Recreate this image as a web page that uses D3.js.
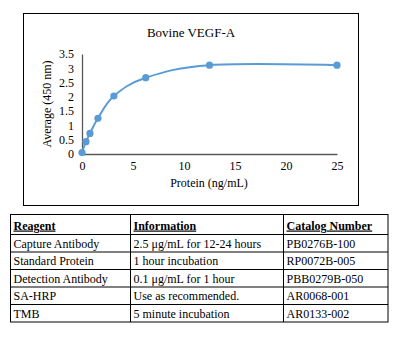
<!DOCTYPE html>
<html><head><meta charset="utf-8">
<script src="https://cdn.jsdelivr.net/npm/d3@7"></script>
<style>body{margin:0;background:#fff}svg{display:block}text{font-family:"Liberation Serif","DejaVu Serif",serif;fill:#000}</style>
</head><body><svg id="c" width="398" height="356"></svg>
<script>
const concentrations = [0, 0.39, 0.78, 1.5625, 3.125, 6.25, 12.5, 25];
const absorbance = [0.05, 0.43, 0.72, 1.25, 2.03, 2.67, 3.11, 3.11];
const xTicks = [0, 5, 10, 15, 20, 25];
const yTicks = [0, 0.5, 1, 1.5, 2, 2.5, 3, 3.5];
const headers = ["Reagent", "Information", "Catalog Number"];
const reagents = ["Capture Antibody", "Standard Protein", "Detection Antibody", "SA-HRP", "TMB"];
const infos = ["2.5 μg/mL for 12-24 hours", "1 hour incubation", "0.1 μg/mL for 1 hour", "Use as recommended.", "5 minute incubation"];
const catalogs = ["PB0276B-100", "RP0072B-005", "PBB0279B-050", "AR0068-001", "AR0133-002"];

const svg = d3.select("#c");
// chart frame
svg.append("rect").attr("x",23.5).attr("y",13.5).attr("width",335).attr("height",192)
  .attr("fill","#fff").attr("stroke","#000").attr("stroke-width",1);
svg.append("text").attr("x",191).attr("y",37).attr("text-anchor","middle").attr("font-size",13).text("Bovine VEGF-A");

const x = d3.scaleLinear().domain([0,25]).range([82,337]);
const y = d3.scaleLinear().domain([0,3.5]).range([154,54]);

const gx = svg.append("g").attr("transform","translate(0,154)")
  .call(d3.axisBottom(x).tickValues(xTicks).tickSize(0).tickPadding(7));
const gy = svg.append("g").attr("transform","translate(82,0)")
  .call(d3.axisLeft(y).tickValues(yTicks).tickSize(0).tickPadding(8).tickFormat(d3.format("")));
[gx,gy].forEach(g=>{
  g.select(".domain").attr("stroke","#595959").attr("stroke-width",1.3);
  g.selectAll("text").attr("font-family","Liberation Serif, serif").attr("font-size",12).attr("fill","#000");
});
svg.append("text").attr("x",209).attr("y",187).attr("text-anchor","middle").attr("font-size",12).text("Protein (ng/mL)");
svg.append("text").attr("transform","translate(51,104) rotate(-90)").attr("text-anchor","middle").attr("font-size",12).text("Average (450 nm)");

const pts = concentrations.map((c,i)=>[c,absorbance[i]]);
svg.append("path").datum(pts).attr("fill","none").attr("stroke","#5B9BD5").attr("stroke-width",2)
  .attr("d", d3.line().x(d=>x(d[0])).y(d=>y(d[1])).curve(d3.curveCatmullRom.alpha(0)));
svg.selectAll("circle.pt").data(pts).join("circle").attr("class","pt")
  .attr("cx",d=>x(d[0])).attr("cy",d=>y(d[1])).attr("r",3.6).attr("fill","#5B9BD5");

// table
const colX = [10.5, 130.5, 283.5, 388];
const rowY = [214.5, 234.5, 252, 269.5, 287, 304.5, 322];
const tg = svg.append("g");
tg.append("rect").attr("x",colX[0]).attr("y",rowY[0]).attr("width",colX[3]-colX[0]).attr("height",rowY[6]-rowY[0])
  .attr("fill","none").attr("stroke","#000");
colX.slice(1,3).forEach(cx=>tg.append("line").attr("x1",cx).attr("x2",cx).attr("y1",rowY[0]).attr("y2",rowY[6]).attr("stroke","#000"));
rowY.slice(1,6).forEach(ry=>tg.append("line").attr("x1",colX[0]).attr("x2",colX[3]).attr("y1",ry).attr("y2",ry).attr("stroke","#000"));
headers.forEach((h,i)=>{
  tg.append("text").attr("x",colX[i]+3).attr("y",rowY[1]-5).attr("font-size",12).attr("font-weight","bold")
    .attr("text-decoration","underline").text(h);
});
const cols = [reagents, infos, catalogs];
cols.forEach((arr,ci)=>arr.forEach((t,ri)=>{
  tg.append("text").attr("x",colX[ci]+3).attr("y",rowY[ri+2]-4.5).attr("font-size",12).text(t);
}));
</script></body></html>
